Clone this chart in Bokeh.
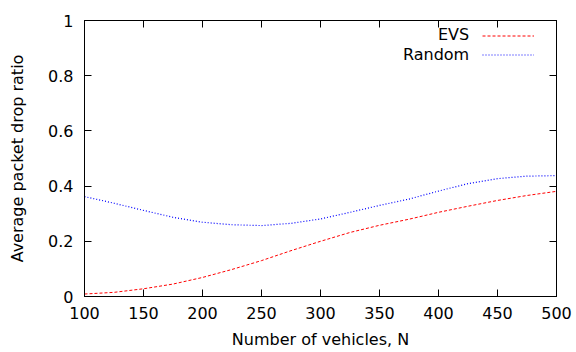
from bokeh.plotting import figure
from bokeh.models import (FixedTicker, LinearAxis, Legend, LegendItem, Label,
                          Range1d, ColumnDataSource, CustomLabelingPolicy)
from bokeh.embed import file_html
from bokeh.resources import INLINE

# ---- data ----
vehicles = [100, 125, 150, 175, 200, 225, 250, 275, 300, 325, 350, 375,
            400, 425, 450, 475, 500]
evs = [0.009, 0.015, 0.028, 0.045, 0.069, 0.098, 0.130, 0.166, 0.200, 0.232,
       0.258, 0.280, 0.305, 0.327, 0.348, 0.366, 0.381]
random_sel = [0.362, 0.338, 0.312, 0.287, 0.269, 0.260, 0.257, 0.265, 0.281,
              0.305, 0.330, 0.353, 0.382, 0.409, 0.427, 0.436, 0.438]

x_ticks = [100, 150, 200, 250, 300, 350, 400, 450, 500]
y_ticks = [0, 0.2, 0.4, 0.6, 0.8, 1.0]
y_tick_labels = ["0", "0.2", "0.4", "0.6", "0.8", "1"]
series_names = ["EVS", "Random"]

FONT = "DejaVu Sans"
FS = "16px"

src = ColumnDataSource(dict(n=vehicles, evs=evs, rnd=random_sel))

p = figure(width=576, height=352, output_backend="svg", toolbar_location=None,
           x_range=Range1d(100, 500), y_range=Range1d(0, 1),
           min_border_left=84, min_border_right=20, min_border_top=20,
           min_border_bottom=56, x_axis_label="Number of vehicles, N",
           y_axis_label="Average packet drop ratio")
p.grid.visible = False
p.outline_line_color = "black"
p.outline_line_width = 1
p.background_fill_color = "white"
p.border_fill_color = "white"

r_evs = p.line("n", "evs", source=src, line_color="#ff0000", line_width=1,
               line_dash="3 2")
r_rnd = p.line("n", "rnd", source=src, line_color="#0000ff", line_width=1.2,
               line_dash="1 2")

overrides = {t: l for t, l in zip(y_ticks, y_tick_labels)}

def style(ax, ticks, show_labels=True):
    ax.ticker = FixedTicker(ticks=ticks)
    ax.major_tick_in = 7
    ax.major_tick_out = 0
    ax.minor_tick_line_color = None
    ax.major_tick_line_color = "black"
    ax.axis_line_color = "black"
    ax.axis_line_width = 1
    ax.major_label_text_font = FONT
    ax.major_label_text_color = "black"
    ax.axis_label_text_font = FONT
    ax.axis_label_text_font_size = FS
    ax.axis_label_text_font_style = "normal"
    ax.axis_label_text_color = "black"
    if show_labels:
        ax.major_label_text_font_size = FS
    else:
        # mirror axis: ticks only, no labels drawn
        ax.major_label_text_font_size = "1px"
        ax.major_label_policy = CustomLabelingPolicy(code="")
        ax.major_label_standoff = 0
        ax.axis_label_standoff = 0

xa = p.xaxis[0]
style(xa, x_ticks)
xa.major_label_standoff = 10
xa.axis_label_standoff = 8

ya = p.yaxis[0]
style(ya, y_ticks)
ya.major_label_overrides = overrides
ya.major_label_standoff = 11
ya.axis_label_standoff = 18

top = LinearAxis()
style(top, x_ticks, show_labels=False)
p.add_layout(top, "above")
right = LinearAxis()
style(right, y_ticks, show_labels=False)
p.add_layout(right, "right")

# gnuplot-style key: text on the left, line sample on the right
legend = Legend(items=[LegendItem(label=" ", renderers=[r_evs]),
                       LegendItem(label=" ", renderers=[r_rnd])],
                location=(398, 232), orientation="vertical",
                glyph_width=52, glyph_height=19, label_height=19,
                label_width=1, label_standoff=0, label_text_font_size="1px",
                padding=0, spacing=0, margin=0,
                border_line_alpha=0, background_fill_alpha=0)
p.add_layout(legend)

for name, yv in zip(series_names, [0.948, 0.878]):
    p.add_layout(Label(x=426, y=yv, text=name, text_align="right",
                       text_baseline="middle", text_font=FONT,
                       text_font_size=FS, text_color="black"))

open("out.html", "w").write(file_html(p, INLINE))
